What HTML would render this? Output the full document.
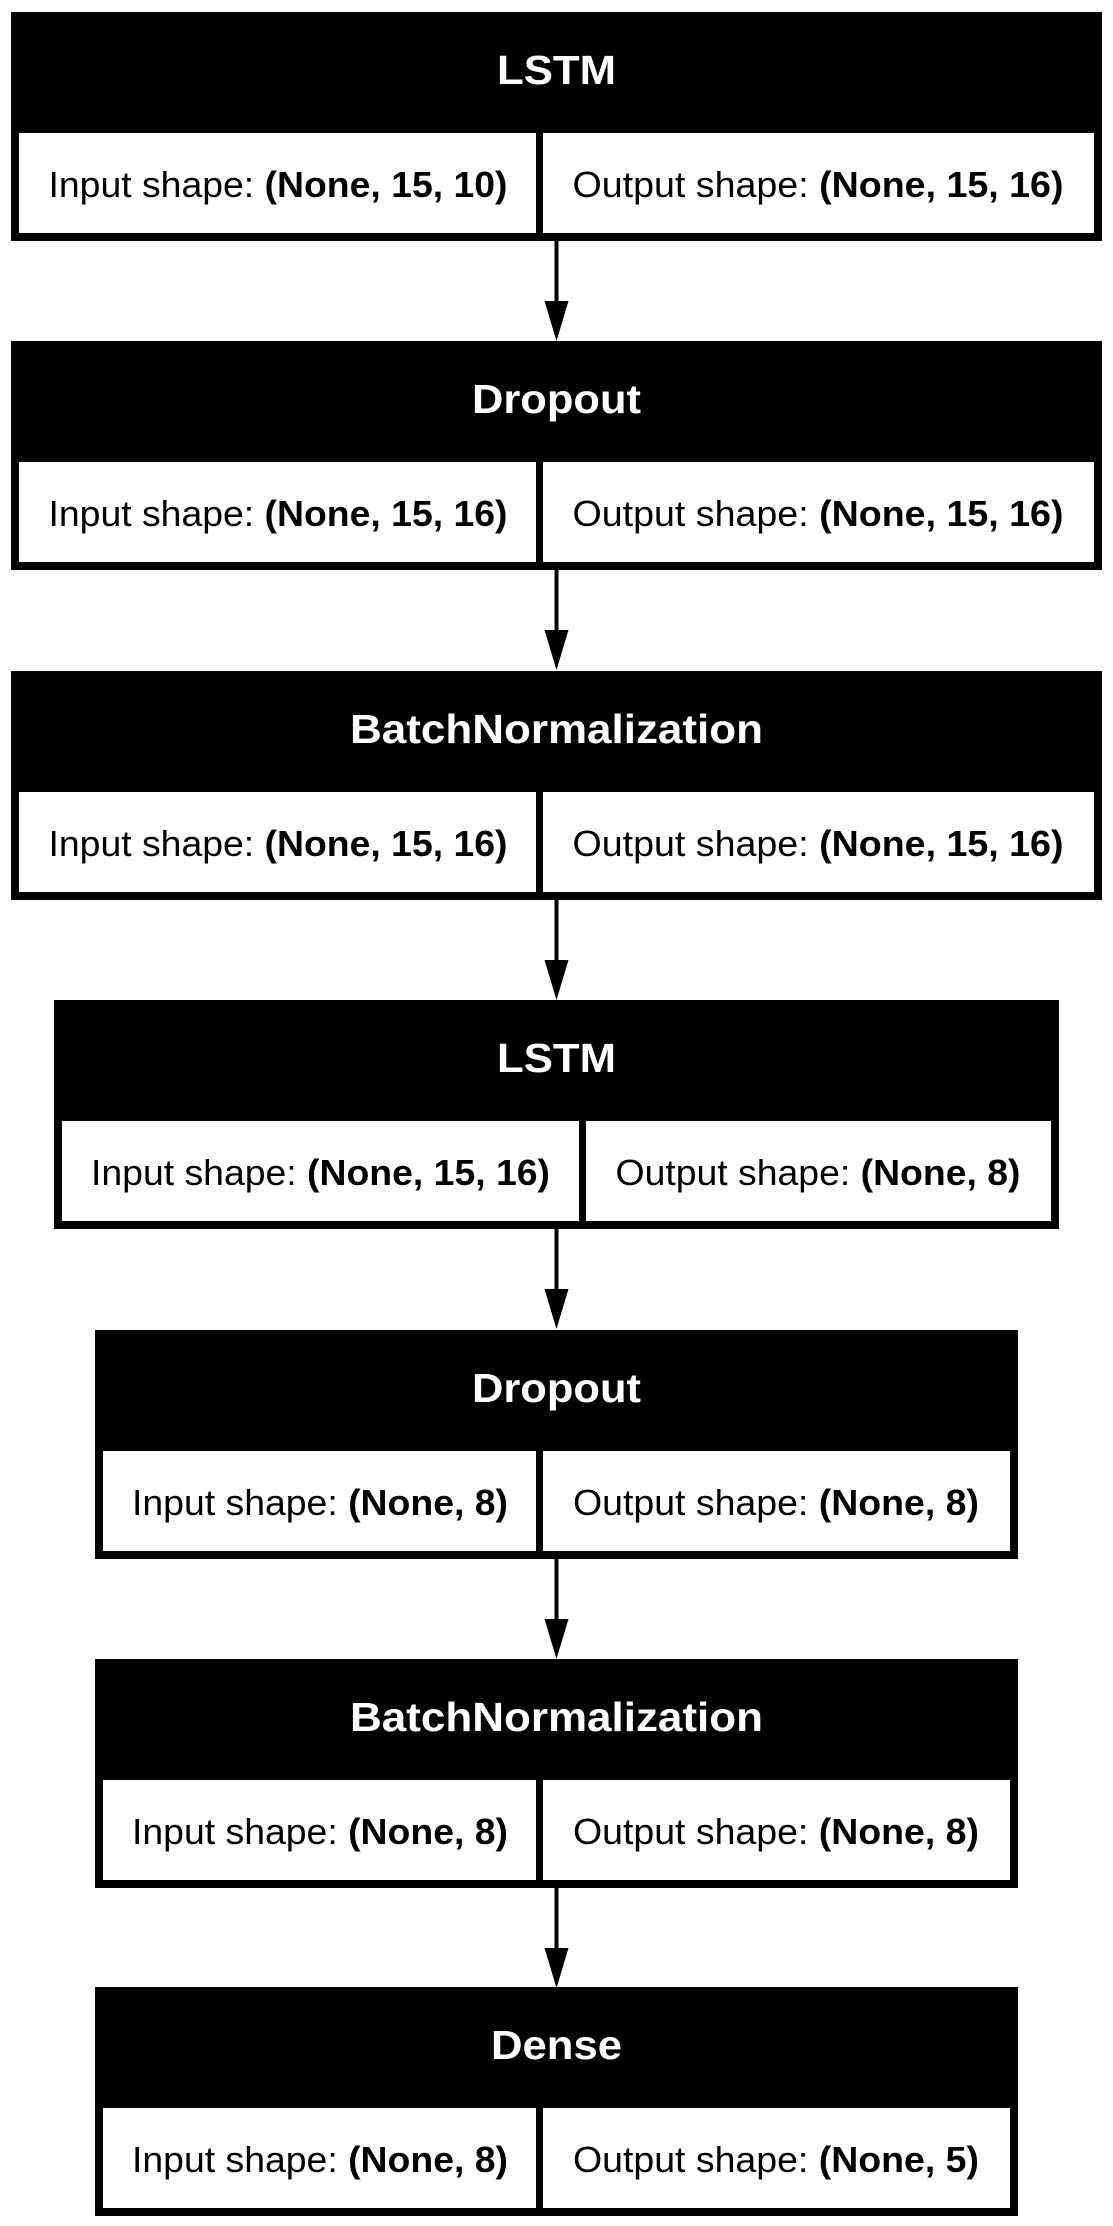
<!DOCTYPE html>
<html><head><meta charset="utf-8"><style>
html,body{margin:0;padding:0;background:#fff;}
svg{display:block;}
.h{font-family:"Liberation Sans",Arial,sans-serif;font-weight:bold;font-size:41px;fill:#fff;}
.c{font-family:"Liberation Sans",Arial,sans-serif;font-size:36px;fill:#000;}
.b{font-weight:bold;}
</style></head><body>
<svg width="1113" height="2226" viewBox="0 0 1113 2226" xmlns="http://www.w3.org/2000/svg">
<defs>
<g id="arrow">
<rect x="-2" y="0" width="4" height="62" fill="#000"/>
<polygon points="-12,60 12,60 0,100" fill="#000"/>
</g>
</defs>

<g transform="translate(0,12)">
<rect x="11" y="0" width="1091" height="229" fill="#000"/>
<rect x="19" y="121" width="517" height="100" fill="#fff"/>
<rect x="543" y="121" width="551" height="100" fill="#fff"/>
<text class="h" x="556.5" y="72" text-anchor="middle" textLength="119" lengthAdjust="spacingAndGlyphs">LSTM</text>
<text class="c" x="278" y="185" text-anchor="middle" textLength="459" lengthAdjust="spacingAndGlyphs">Input shape: <tspan class="b">(None, 15, 10)</tspan></text>
<text class="c" x="818" y="185" text-anchor="middle" textLength="491" lengthAdjust="spacingAndGlyphs">Output shape: <tspan class="b">(None, 15, 16)</tspan></text>
<use href="#arrow" x="556.5" y="229"/>
</g>

<g transform="translate(0,341)">
<rect x="11" y="0" width="1091" height="229" fill="#000"/>
<rect x="19" y="121" width="517" height="100" fill="#fff"/>
<rect x="543" y="121" width="551" height="100" fill="#fff"/>
<text class="h" x="556.5" y="72" text-anchor="middle" textLength="169" lengthAdjust="spacingAndGlyphs">Dropout</text>
<text class="c" x="278" y="185" text-anchor="middle" textLength="459" lengthAdjust="spacingAndGlyphs">Input shape: <tspan class="b">(None, 15, 16)</tspan></text>
<text class="c" x="818" y="185" text-anchor="middle" textLength="491" lengthAdjust="spacingAndGlyphs">Output shape: <tspan class="b">(None, 15, 16)</tspan></text>
<use href="#arrow" x="556.5" y="229"/>
</g>

<g transform="translate(0,671)">
<rect x="11" y="0" width="1091" height="229" fill="#000"/>
<rect x="19" y="121" width="517" height="100" fill="#fff"/>
<rect x="543" y="121" width="551" height="100" fill="#fff"/>
<text class="h" x="556.5" y="72" text-anchor="middle" textLength="413" lengthAdjust="spacingAndGlyphs">BatchNormalization</text>
<text class="c" x="278" y="185" text-anchor="middle" textLength="459" lengthAdjust="spacingAndGlyphs">Input shape: <tspan class="b">(None, 15, 16)</tspan></text>
<text class="c" x="818" y="185" text-anchor="middle" textLength="491" lengthAdjust="spacingAndGlyphs">Output shape: <tspan class="b">(None, 15, 16)</tspan></text>
<use href="#arrow" x="556.5" y="229"/>
</g>

<g transform="translate(0,1000)">
<rect x="54" y="0" width="1005" height="229" fill="#000"/>
<rect x="62" y="121" width="517" height="100" fill="#fff"/>
<rect x="586" y="121" width="465" height="100" fill="#fff"/>
<text class="h" x="556.5" y="72" text-anchor="middle" textLength="119" lengthAdjust="spacingAndGlyphs">LSTM</text>
<text class="c" x="320.5" y="185" text-anchor="middle" textLength="459" lengthAdjust="spacingAndGlyphs">Input shape: <tspan class="b">(None, 15, 16)</tspan></text>
<text class="c" x="818" y="185" text-anchor="middle" textLength="405" lengthAdjust="spacingAndGlyphs">Output shape: <tspan class="b">(None, 8)</tspan></text>
<use href="#arrow" x="556.5" y="229"/>
</g>

<g transform="translate(0,1330)">
<rect x="95" y="0" width="923" height="229" fill="#000"/>
<rect x="103" y="121" width="433" height="100" fill="#fff"/>
<rect x="543" y="121" width="467" height="100" fill="#fff"/>
<text class="h" x="556.5" y="72" text-anchor="middle" textLength="169" lengthAdjust="spacingAndGlyphs">Dropout</text>
<text class="c" x="320" y="185" text-anchor="middle" textLength="376" lengthAdjust="spacingAndGlyphs">Input shape: <tspan class="b">(None, 8)</tspan></text>
<text class="c" x="776" y="185" text-anchor="middle" textLength="406" lengthAdjust="spacingAndGlyphs">Output shape: <tspan class="b">(None, 8)</tspan></text>
<use href="#arrow" x="556.5" y="229"/>
</g>

<g transform="translate(0,1659)">
<rect x="95" y="0" width="923" height="229" fill="#000"/>
<rect x="103" y="121" width="433" height="100" fill="#fff"/>
<rect x="543" y="121" width="467" height="100" fill="#fff"/>
<text class="h" x="556.5" y="72" text-anchor="middle" textLength="413" lengthAdjust="spacingAndGlyphs">BatchNormalization</text>
<text class="c" x="320" y="185" text-anchor="middle" textLength="376" lengthAdjust="spacingAndGlyphs">Input shape: <tspan class="b">(None, 8)</tspan></text>
<text class="c" x="776" y="185" text-anchor="middle" textLength="406" lengthAdjust="spacingAndGlyphs">Output shape: <tspan class="b">(None, 8)</tspan></text>
<use href="#arrow" x="556.5" y="229"/>
</g>

<g transform="translate(0,1987)">
<rect x="95" y="0" width="923" height="229" fill="#000"/>
<rect x="103" y="121" width="433" height="100" fill="#fff"/>
<rect x="543" y="121" width="467" height="100" fill="#fff"/>
<text class="h" x="556.5" y="72" text-anchor="middle" textLength="131" lengthAdjust="spacingAndGlyphs">Dense</text>
<text class="c" x="320" y="185" text-anchor="middle" textLength="376" lengthAdjust="spacingAndGlyphs">Input shape: <tspan class="b">(None, 8)</tspan></text>
<text class="c" x="776" y="185" text-anchor="middle" textLength="406" lengthAdjust="spacingAndGlyphs">Output shape: <tspan class="b">(None, 5)</tspan></text>
</g>
</svg>
</body></html>
